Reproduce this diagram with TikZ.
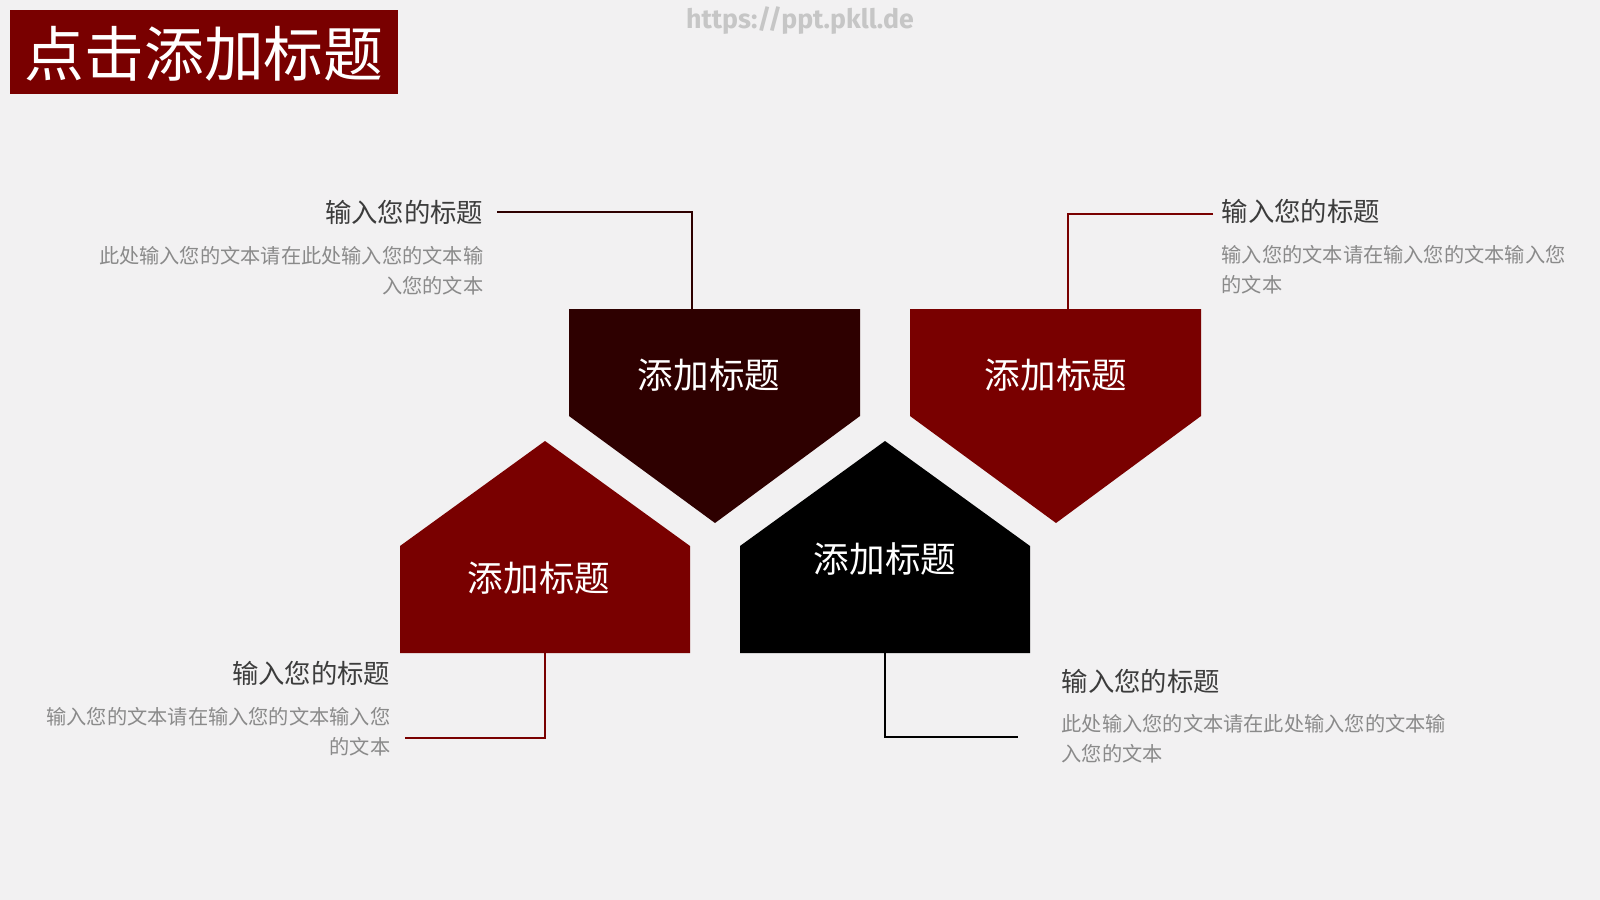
\documentclass[tikz,border=0pt]{standalone}
\usepackage{fontspec}
\newfontfamily\cjk{Noto Sans CJK SC}
\newfontfamily\wmfont{Fira Sans}
\usepackage{tikz}
\definecolor{bgg}{HTML}{F2F1F2}
\definecolor{darkred}{HTML}{790000}
\definecolor{maroon}{HTML}{2E0000}
\definecolor{headgrey}{HTML}{3C3C3C}
\definecolor{bodygrey}{HTML}{8A8A8A}
\definecolor{wmgrey}{HTML}{C6C6C6}

\begin{document}
\begin{tikzpicture}[x=0.01cm,y=-0.01cm]
\tikzstyle{every node}=[inner sep=0pt,font=\cjk];
\tikzstyle{head}=[text=headgrey,font=\cjk\fontsize{7.5}{9}\selectfont];
\tikzstyle{body}=[text=bodygrey,font=\cjk\fontsize{5.75}{8.4}\selectfont];
\tikzstyle{lab}=[text=white,font=\cjk\fontsize{10.1}{12}\selectfont];
\tikzstyle{link}=[line width=0.35pt];

\fill[bgg] (0,0) rectangle (1600,900);
\useasboundingbox (0,0) rectangle (1600,900);

\fill[darkred] (10,10) rectangle (398,94);
\node[text=white,font=\cjk\fontsize{17}{20}\selectfont](T) at(204,54){点击添加标题};
\node[text=wmgrey,font=\wmfont\bfseries\fontsize{7.6}{8}\selectfont](W) at(800,21){https://ppt.pkll.de};

\fill[maroon] (569,309) -- (860,309) -- (860,416) -- (715,523) -- (569,416) -- cycle;
\fill[darkred] (910,309) -- (1201,309) -- (1201,416) -- (1056,523) -- (910,416) -- cycle;
\fill[darkred] (400,653) -- (400,546) -- (545,441) -- (690,546) -- (690,653) -- cycle;
\fill[black] (740,653) -- (740,546) -- (885,441) -- (1030,546) -- (1030,653) -- cycle;

\node[lab](A) at(709,375){添加标题};
\node[lab](B) at(1056,375){添加标题};
\node[lab](C) at(539,578){添加标题};
\node[lab](D) at(885,559){添加标题};

\node[head,anchor=east](H1) at(484,212){输入您的标题};
\node[body,anchor=north east,align=right](P1) at(484,246){此处输入您的文本请在此处输入您的文本输\\入您的文本};
\node[head,anchor=west](H2) at(1221,211){输入您的标题};
\node[body,anchor=north west,align=left](P2) at(1221,245){输入您的文本请在输入您的文本输入您\\的文本};
\node[head,anchor=east](H3) at(391,673){输入您的标题};
\node[body,anchor=north east,align=right](P3) at(391,707){输入您的文本请在输入您的文本输入您\\的文本};
\node[head,anchor=west](H4) at(1061,681){输入您的标题};
\node[body,anchor=north west,align=left](P4) at(1061,714){此处输入您的文本请在此处输入您的文本输\\入您的文本};

\coordinate (a1) at(692,309);
\coordinate (b1) at(497,212);
\coordinate (a2) at(1068,309);
\coordinate (b2) at(1213,214);
\coordinate (a3) at(545,653);
\coordinate (b3) at(405,738);
\coordinate (a4) at(885,653);
\coordinate (b4) at(1018,737);

\draw[link,maroon] (b1) -| (a1);
\draw[link,darkred] (b2) -| (a2);
\draw[link,darkred] (a3) |- (b3);
\draw[link,black] (a4) |- (b4);

\end{tikzpicture}
\end{document}
